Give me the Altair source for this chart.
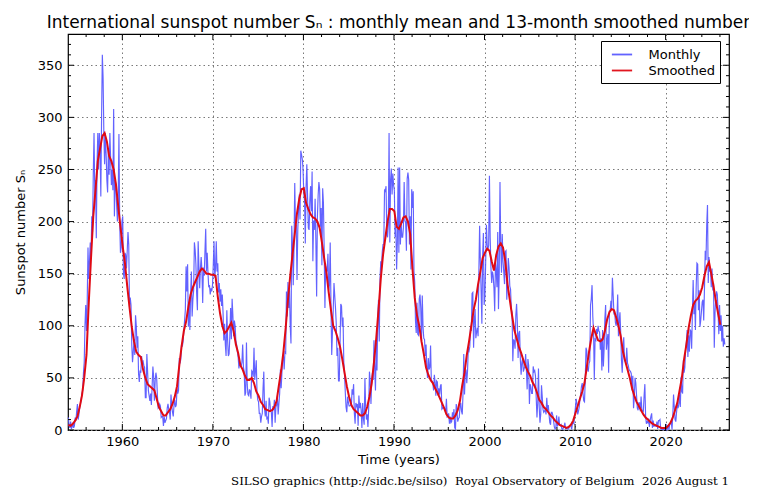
import altair as alt
import pandas as pd

START_YEAR = 1954

# Monthly mean sunspot number, one row per year (Jan..Dec)
monthly_1950s = [
    12, 4, 2, 8, 1, 3, 7, 2, 4, 12, 9, 18,            # 1954
    25, 10, 15, 22, 25, 30, 35, 38, 55, 65, 100, 120,  # 1955
    95, 125, 175, 145, 162, 180, 165, 205, 190, 245, 285, 225,  # 1956
    240, 184, 255, 285, 250, 285, 270, 224, 300, 360, 338, 285,  # 1957
    255, 285, 265, 240, 228, 270, 245, 285, 260, 235, 250, 230,  # 1958
    308, 205, 240, 235, 215, 200, 220, 284, 200, 170, 175, 200,  # 1959
]
monthly_1960s = [
    205, 150, 145, 170, 168, 155, 172, 190, 178, 118, 127, 120,  # 1960
    82, 65, 75, 87, 72, 110, 100, 79, 90, 54, 46, 57,            # 1961
    55, 71, 65, 66, 62, 60, 31, 31, 73, 56, 38, 33,              # 1962
    28, 35, 24, 42, 61, 51, 28, 47, 55, 50, 33, 21,              # 1963
    22, 25, 23, 12, 13, 13, 4, 13, 7, 9, 11, 21,                 # 1964
    25, 20, 17, 10, 34, 23, 17, 13, 24, 29, 22, 24,              # 1965
    40, 35, 38, 69, 64, 68, 82, 80, 85, 95, 105, 115,            # 1966
    157, 133, 159, 99, 123, 96, 130, 152, 109, 125, 134, 180,    # 1967
    173, 159, 131, 115, 181, 157, 136, 155, 166, 153, 122, 156,  # 1968
    148, 171, 193, 152, 170, 151, 137, 139, 130, 136, 133, 139,  # 1969
]
monthly_1970s = [
    158, 181, 146, 155, 181, 152, 160, 132, 141, 123, 135, 119,  # 1970
    130, 112, 86, 102, 82, 71, 115, 87, 71, 73, 90, 117,         # 1971
    87, 126, 110, 90, 105, 100, 85, 82, 75, 70, 59, 64,          # 1972
    62, 61, 65, 82, 60, 56, 33, 36, 84, 44, 34, 33,              # 1973
    39, 37, 30, 57, 56, 51, 79, 48, 57, 67, 36, 29,              # 1974
    27, 16, 16, 7, 13, 16, 40, 56, 20, 13, 28, 11,               # 1975
    12, 6, 31, 27, 18, 17, 3, 23, 19, 29, 7, 22,                 # 1976
    24, 33, 15, 25, 35, 58, 40, 55, 70, 72, 58, 75,              # 1977
    74, 133, 109, 142, 117, 135, 100, 83, 196, 178, 139, 174,    # 1978
    237, 195, 196, 144, 191, 212, 226, 202, 268, 264, 260, 250,  # 1979
]
monthly_1980s = [
    227, 220, 179, 233, 255, 223, 194, 192, 220, 234, 210, 248,  # 1980
    162, 201, 192, 222, 181, 128, 204, 225, 238, 231, 195, 213,  # 1981
    158, 232, 218, 173, 117, 157, 151, 153, 169, 134, 139, 180,  # 1982
    120, 72, 94, 115, 141, 129, 117, 102, 71, 79, 47, 47,        # 1983
    81, 121, 119, 99, 108, 65, 53, 36, 22, 17, 32, 27,           # 1984
    23, 23, 24, 23, 39, 34, 44, 16, 6, 26, 23, 25,               # 1985
    4, 33, 21, 26, 19, 2, 26, 11, 5, 50, 22, 10,                 # 1986
    15, 3, 21, 56, 47, 25, 47, 55, 48, 86, 57, 38,               # 1987
    84, 57, 108, 125, 85, 145, 162, 158, 171, 178, 178, 230,     # 1988
    229, 234, 187, 185, 197, 285, 180, 240, 251, 226, 246, 235,  # 1989
]
monthly_1990s = [
    230, 185, 195, 154, 180, 252, 170, 252, 178, 200, 185, 185,  # 1990
    194, 238, 201, 199, 172, 241, 247, 240, 178, 205, 154, 231,  # 1991
    213, 229, 152, 142, 105, 93, 122, 92, 91, 126, 130, 117,     # 1992
    84, 129, 99, 88, 87, 71, 82, 60, 50, 69, 58, 60,             # 1993
    81, 47, 47, 45, 38, 53, 46, 33, 47, 46, 33, 40,              # 1994
    34, 42, 44, 20, 21, 22, 21, 20, 17, 30, 13, 14,              # 1995
    16, 6, 13, 7, 8, 17, 12, 20, 2, 1, 25, 19,                   # 1996
    8, 11, 12, 22, 26, 18, 15, 35, 73, 34, 55, 58,               # 1997
    45, 57, 78, 76, 80, 100, 95, 131, 132, 79, 105, 116,         # 1998
    88, 94, 98, 90, 151, 196, 161, 133, 102, 166, 189, 120,      # 1999
]
monthly_2000s = [
    128, 160, 197, 178, 173, 177, 244, 185, 156, 141, 152, 148,  # 2000
    136, 114, 161, 153, 137, 190, 116, 151, 238, 178, 151, 188,  # 2001
    162, 152, 140, 171, 172, 125, 141, 165, 156, 138, 135, 116,  # 2002
    113, 66, 87, 85, 78, 110, 121, 103, 69, 93, 95, 67,          # 2003
    53, 65, 69, 56, 59, 61, 73, 58, 39, 68, 62, 25,              # 2004
    44, 41, 35, 35, 61, 56, 57, 52, 31, 12, 26, 59,              # 2005
    22, 7, 15, 43, 32, 20, 17, 18, 20, 15, 31, 19,               # 2006
    24, 15, 7, 5, 17, 17, 14, 9, 3, 1, 2, 14,                    # 2007
    4, 5, 13, 5, 4, 5, 1, 0.6, 2, 3, 7, 1,                       # 2008
    1.2, 1.3, 0.8, 1.1, 4, 4.5, 4, 0.5, 6, 7, 6, 15,             # 2009
]
monthly_2010s = [
    22, 30, 25, 15, 18, 22, 30, 35, 42, 45, 35, 28,              # 2010
    27, 48, 79, 76, 58, 56, 64, 66, 120, 126, 139, 109,          # 2011
    94, 48, 87, 86, 97, 92, 100, 95, 94, 77, 88, 57,             # 2012
    96, 61, 78, 107, 120, 77, 86, 92, 55, 114, 114, 124,         # 2013
    117, 146, 129, 112, 113, 103, 100, 107, 130, 90, 104, 113,   # 2014
    93, 67, 55, 75, 89, 67, 66, 64, 79, 64, 62, 58,              # 2015
    57, 56, 54, 38, 52, 21, 32, 50, 45, 33, 21, 19,              # 2016
    26, 26, 18, 32, 19, 19, 18, 33, 44, 13, 6, 8,                # 2017
    7, 11, 3, 9, 13, 16, 2, 9, 3, 5, 5, 3,                       # 2018
    8, 1, 9, 9, 10, 1, 1, 0.5, 1, 0.4, 0.5, 1.5,                 # 2019
]
monthly_2020s = [
    6, 0.2, 1.5, 5, 0.2, 6, 6, 7.5, 0.6, 14, 34, 22,             # 2020
    10, 8, 17, 24, 21, 25, 34, 22, 51, 37, 35, 67,               # 2021
    55, 60, 78, 84, 96, 70, 91, 75, 96, 95, 78, 113,             # 2022
    144, 111, 123, 96, 137, 160, 159, 115, 134, 99, 105, 114,    # 2023
    123, 125, 105, 136, 172, 163, 197, 216, 141, 166, 152, 154,  # 2024
    137, 155, 134, 141, 79, 113, 126, 133, 130, 114, 92, 120,    # 2025
    95, 110, 85, 100, 80, 88, 82,                                # 2026
]

# 13-month smoothed number, read every quarter (Jan, Apr, Jul, Oct)
smoothed_1950s = [
    5, 4, 6, 9, 13, 22, 33, 50, 72, 122, 165, 205,
    231, 258, 270, 282, 285, 277, 263, 258, 250, 236, 215, 195,
]
smoothed_1960s = [
    176, 160, 138, 118, 99, 85, 75, 72, 70, 58, 50, 44,
    42, 40, 38, 30, 22, 18, 14, 14, 17, 20, 25, 32,
    42, 62, 80, 95, 104, 118, 130, 137, 142, 147, 152, 155,
    153, 150, 150, 149,
]
smoothed_1970s = [
    149, 148, 128, 112, 100, 93, 95, 99, 103, 95, 82, 74,
    62, 58, 52, 48, 48, 50, 45, 37, 33, 27, 24, 20,
    19, 18, 19, 22, 28, 43, 57, 75, 98, 125, 148, 168,
    188, 208, 222, 231,
]
smoothed_1980s = [
    232, 218, 212, 207, 204, 203, 200, 194, 180, 165, 151, 132,
    115, 100, 95, 88, 80, 68, 55, 42, 32, 24, 20, 18,
    16, 14, 14, 16, 22, 32, 45, 65, 88, 115, 145, 168,
    184, 200, 212, 212,
]
smoothed_1990s = [
    210, 195, 193, 198, 204, 205, 200, 188, 155, 127, 110, 100,
    85, 73, 60, 53, 48, 45, 40, 36, 31, 26, 21, 15,
    12, 11, 11, 14, 19, 28, 43, 55, 72, 85, 100, 115,
    125, 140, 152, 165,
]
smoothed_2000s = [
    170, 174, 172, 162, 153, 168, 176, 179, 175, 162, 140, 125,
    110, 96, 88, 80, 74, 67, 61, 56, 52, 46, 42, 36,
    29, 26, 22, 20, 17, 14, 12, 9, 7, 5, 4, 3,
    2, 3, 5, 9,
]
smoothed_2010s = [
    16, 23, 30, 37, 45, 60, 75, 88, 98, 92, 86, 85,
    87, 95, 106, 113, 116, 115, 108, 100, 90, 75, 66, 58,
    50, 40, 33, 27, 23, 19, 15, 12, 10, 8, 6, 5,
    4, 3, 2, 2,
]
smoothed_2020s = [
    2, 4, 7, 12, 19, 26, 38, 50, 68, 82, 98, 110,
    120, 124, 126, 130, 137, 148, 157, 161, 150, 138, 124, 112,
    101,
]

x_major = [1960, 1970, 1980, 1990, 2000, 2010, 2020]
x_minor = [1956, 1958, 1962, 1964, 1966, 1968, 1972, 1974, 1976, 1978,
           1982, 1984, 1986, 1988, 1992, 1994, 1996, 1998, 2002, 2004,
           2006, 2008, 2012, 2014, 2016, 2018, 2022, 2024, 2026]
y_major = [0, 50, 100, 150, 200, 250, 300, 350]
y_minor = [v for v in range(10, 380, 10) if v % 50 != 0]

title_text = "International sunspot number S\u2099 : monthly mean and 13-month smoothed number"
footer_text = ("SILSO graphics (http://sidc.be/silso)\u00a0 Royal Observatory of Belgium"
               "\u00a0 2026 August 1")

monthly = (monthly_1950s + monthly_1960s + monthly_1970s + monthly_1980s +
           monthly_1990s + monthly_2000s + monthly_2010s + monthly_2020s)
smoothed = (smoothed_1950s + smoothed_1960s + smoothed_1970s + smoothed_1980s +
            smoothed_1990s + smoothed_2000s + smoothed_2010s + smoothed_2020s)

mdf = pd.DataFrame({
    "t": [START_YEAR + (i + 0.5) / 12 for i in range(len(monthly))],
    "v": monthly,
    "s": "Monthly",
})
sdf = pd.DataFrame({
    "t": [START_YEAR + (3 * i + 0.5) / 12 for i in range(len(smoothed))],
    "v": smoothed,
    "s": "Smoothed",
})

W, H = 661, 396
BLUE = "#5a5aff"
RED = "#e00a14"

xscale = alt.Scale(domain=[1954, 2027], nice=False, zero=False)
yscale = alt.Scale(domain=[0, 380], nice=False, zero=True)
cscale = alt.Scale(domain=["Monthly", "Smoothed"], range=[BLUE, RED])

x_axis = alt.Axis(values=x_major, format="d", title="Time (years)", grid=True,
                  ticks=False, tickSize=0, domain=False, labelPadding=5,
                  titlePadding=5, labelFlush=False)
y_axis = alt.Axis(values=y_major, format="d", title="Sunspot number S\u2099", grid=True,
                  ticks=False, tickSize=0, domain=False, labelPadding=6,
                  titlePadding=10)

legend = alt.Legend(title=None, orient="none", legendX=533, legendY=7,
                    strokeColor="black", fillColor="white", padding=5,
                    symbolType="M-1.35,0H1.35", symbolSize=225, symbolStrokeWidth=1.8,
                    symbolOffset=7.5,
                    labelFontSize=13, labelFont="DejaVu Sans", labelColor="black",
                    labelOffset=18, rowPadding=0, cornerRadius=0)

X = alt.X("t:Q", scale=xscale, axis=x_axis)
Y = alt.Y("v:Q", scale=yscale, axis=y_axis)

monthly_line = alt.Chart(mdf).mark_line(strokeWidth=1.15, opacity=0.95).encode(
    x=X, y=Y,
    color=alt.Color("s:N", scale=cscale, legend=legend),
)
smoothed_line = alt.Chart(sdf).mark_line(strokeWidth=2).encode(
    x=X, y=Y,
    color=alt.Color("s:N", scale=cscale, legend=legend),
)

def xticks(values, length):
    d = pd.DataFrame({"t": values})
    bottom = alt.Chart(d).mark_rule(color="black", strokeWidth=1).encode(
        x=X, y=alt.value(H), y2=alt.value(H - length))
    top = alt.Chart(d).mark_rule(color="black", strokeWidth=1).encode(
        x=X, y=alt.value(0), y2=alt.value(length))
    return [bottom, top]

def yticks(values, length):
    d = pd.DataFrame({"v": values})
    left = alt.Chart(d).mark_rule(color="black", strokeWidth=1).encode(
        y=Y, x=alt.value(0), x2=alt.value(length))
    right = alt.Chart(d).mark_rule(color="black", strokeWidth=1).encode(
        y=Y, x=alt.value(W), x2=alt.value(W - length))
    return [left, right]

title = alt.Chart(pd.DataFrame({"txt": [title_text]})).mark_text(
    align="center", baseline="alphabetic", font="DejaVu Sans", fontSize=17,
    color="black").encode(x=alt.value(W / 2), y=alt.value(-6), text="txt:N")

footer = alt.Chart(pd.DataFrame({"txt": [footer_text]})).mark_text(
    align="right", baseline="alphabetic", font="DejaVu Serif", fontSize=11.8,
    color="black").encode(x=alt.value(W), y=alt.value(451), text="txt:N")

layers = ([monthly_line, smoothed_line] + xticks(x_major, 6) + xticks(x_minor, 3)
          + yticks(y_major, 6) + yticks(y_minor, 3) + [title, footer])

chart = alt.layer(*layers).properties(
    width=W, height=H,
    autosize=alt.AutoSizeParams(type="none"),
    padding={"left": 60, "top": 26, "right": 20, "bottom": 59},
).configure_view(
    stroke="black", strokeWidth=1.2
).configure_axis(
    labelFont="DejaVu Sans", labelFontSize=13, labelColor="black",
    titleFont="DejaVu Sans", titleFontSize=13, titleFontWeight="normal",
    titleColor="black", gridColor="#7a7a7a", gridDash=[1.5, 3], gridWidth=1,
    gridOpacity=1,
)

chart.save("out.html", embed_options={"renderer": "svg", "actions": False})
